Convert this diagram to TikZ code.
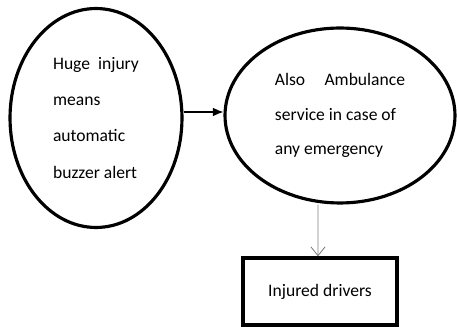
\documentclass[tikz,border=0pt]{standalone}
\usepackage{fontspec}
\setmainfont{Carlito}
\usetikzlibrary{positioning,shapes,arrows.meta}

\begin{document}
\begin{tikzpicture}[x=0.02cm,y=-0.02cm,
  bubble/.style={ellipse,draw,line width=1.8pt,align=left,inner sep=0pt},
  flow/.style={-{Latex[length=6pt,width=5pt]},line width=0.7pt},
  down/.style={-{Straight Barb[length=5pt,width=8pt]},draw=gray,line width=0.5pt}]

\useasboundingbox (0,0) rectangle (457,327);

% Ellipses
\node[bubble,minimum width=3.44cm,minimum height=4.38cm,
  font=\fontsize{10}{20.5}\selectfont] (injury) at (96,118)
  {Huge\ \ injury\\means\\automatic\\buzzer alert};
\node[bubble,minimum width=4.6cm,minimum height=3.5cm,
  font=\fontsize{10}{19.5}\selectfont] (ambulance) at (340,115.5)
  {Also\hspace{1.1em}Ambulance\\service in case of\\any emergency};

% Box
\node[draw,line width=1.8pt,minimum width=3.08cm,minimum height=1.34cm,
  font=\fontsize{10}{12}\selectfont] (drivers) at (320,291.5) {Injured drivers};

% Arrows
\coordinate (level) at (200,112);
\draw[flow] (injury.east |- level) -- (ambulance.west |- level);
\draw[down] (ambulance.south -| drivers.north) ++(-2,0) -- ([xshift=-0.04cm]drivers.north);

\end{tikzpicture}
\end{document}
